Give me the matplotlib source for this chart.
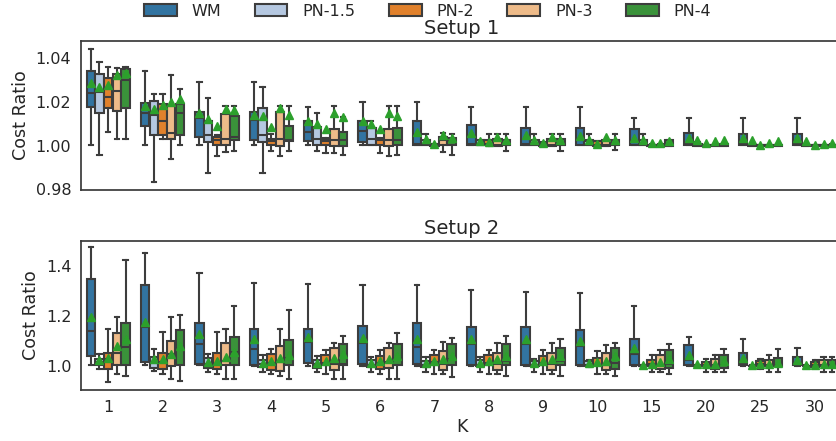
import colorsys
import matplotlib
matplotlib.use("Agg")
import matplotlib.pyplot as plt
import matplotlib.colors as mcolors
from matplotlib.patches import Patch

# ---------------- data ----------------
K_labels = ["1", "2", "3", "4", "5", "6", "7", "8", "9", "10", "15", "20", "25", "30"]
methods = ["WM", "PN-1.5", "PN-2", "PN-3", "PN-4"]
base_colors = ["#1f77b4", "#aec7e8", "#ff7f0e", "#ffbb78", "#2ca02c"]

# Setup 1 (rows: methods, columns: K)
s1_whishi = [
    [1.0445, 1.0343, 1.0290, 1.0290, 1.0176, 1.0202, 1.0202, 1.0176, 1.0176, 1.0176, 1.0126, 1.0126, 1.0126, 1.0126],
    [1.0384, 1.0237, 1.0221, 1.0270, 1.0152, 1.0114, 1.0053, 1.0027, 1.0053, 1.0053, 1.0053, 1.0015, 1.0010, 1.0010],
    [1.0361, 1.0237, 1.0050, 1.0053, 1.0035, 1.0035, 1.0010, 1.0053, 1.0015, 1.0020, 1.0008, 1.0005, 1.0003, 1.0003],
    [1.0356, 1.0323, 1.0182, 1.0182, 1.0180, 1.0180, 1.0058, 1.0053, 1.0053, 1.0027, 1.0010, 1.0008, 1.0005, 1.0005],
    [1.0361, 1.0262, 1.0182, 1.0180, 1.0130, 1.0180, 1.0054, 1.0053, 1.0053, 1.0053, 1.0027, 1.0010, 1.0008, 1.0008],
]
s1_q3 = [
    [1.0343, 1.0197, 1.0156, 1.0156, 1.0115, 1.0115, 1.0111, 1.0096, 1.0079, 1.0079, 1.0076, 1.0058, 1.0053, 1.0053],
    [1.0329, 1.0205, 1.0114, 1.0171, 1.0085, 1.0083, 1.0027, 1.0027, 1.0027, 1.0027, 1.0027, 1.0010, 1.0005, 1.0005],
    [1.0311, 1.0191, 1.0042, 1.0032, 1.0030, 1.0030, 1.0008, 1.0027, 1.0010, 1.0020, 1.0005, 1.0003, 1.0002, 1.0002],
    [1.0331, 1.0187, 1.0146, 1.0156, 1.0076, 1.0077, 1.0040, 1.0030, 1.0030, 1.0027, 1.0005, 1.0005, 1.0003, 1.0003],
    [1.0353, 1.0190, 1.0138, 1.0092, 1.0062, 1.0080, 1.0035, 1.0027, 1.0030, 1.0027, 1.0027, 1.0008, 1.0005, 1.0005],
]
s1_med = [
    [1.0240, 1.0152, 1.0126, 1.0118, 1.0065, 1.0068, 1.0008, 1.0008, 1.0008, 1.0027, 1.0015, 1.0008, 1.0008, 1.0008],
    [1.0247, 1.0141, 1.0047, 1.0047, 1.0030, 1.0030, 1.0008, 1.0008, 1.0008, 1.0020, 1.0012, 1.0003, 1.0002, 1.0002],
    [1.0224, 1.0114, 1.0027, 1.0020, 1.0020, 1.0024, 1.0003, 1.0010, 1.0003, 1.0003, 1.0002, 1.0001, 1.0001, 1.0001],
    [1.0252, 1.0060, 1.0030, 1.0032, 1.0027, 1.0027, 1.0027, 1.0003, 1.0003, 1.0003, 1.0002, 1.0002, 1.0001, 1.0001],
    [1.0303, 1.0149, 1.0042, 1.0027, 1.0027, 1.0027, 1.0020, 1.0003, 1.0003, 1.0003, 1.0003, 1.0002, 1.0001, 1.0001],
]
s1_q1 = [
    [1.0179, 1.0091, 1.0040, 1.0027, 1.0023, 1.0015, 1.0005, 1.0003, 1.0003, 1.0003, 1.0003, 1.0003, 1.0003, 1.0003],
    [1.0152, 1.0050, 1.0017, 1.0015, 1.0005, 1.0005, 1.0003, 1.0003, 1.0003, 1.0003, 1.0003, 1.0000, 1.0000, 1.0000],
    [1.0171, 1.0050, 1.0005, 1.0005, 1.0005, 1.0005, 1.0000, 1.0003, 1.0000, 1.0000, 1.0000, 1.0000, 1.0000, 1.0000],
    [1.0161, 1.0030, 1.0005, 0.9997, 1.0000, 1.0000, 1.0005, 1.0000, 1.0000, 1.0000, 1.0000, 1.0000, 1.0000, 1.0000],
    [1.0174, 1.0050, 1.0024, 1.0020, 1.0000, 1.0005, 1.0005, 1.0003, 1.0003, 1.0003, 1.0000, 1.0000, 1.0000, 1.0000],
]
s1_whislo = [
    [1.0003, 1.0003, 1.0003, 1.0003, 1.0003, 1.0003, 1.0003, 1.0003, 1.0003, 1.0003, 1.0003, 1.0003, 1.0003, 1.0003],
    [0.9959, 0.9833, 0.9873, 0.9873, 0.9974, 1.0005, 1.0003, 1.0003, 1.0003, 1.0003, 1.0003, 1.0000, 1.0000, 1.0000],
    [1.0061, 1.0030, 0.9951, 0.9974, 0.9967, 0.9967, 1.0000, 1.0000, 1.0000, 1.0000, 1.0000, 1.0000, 1.0000, 1.0000],
    [1.0030, 0.9940, 0.9970, 0.9951, 0.9967, 0.9951, 0.9970, 1.0000, 1.0000, 1.0000, 1.0000, 1.0000, 1.0000, 1.0000],
    [1.0030, 1.0005, 0.9974, 0.9974, 0.9959, 0.9959, 0.9959, 0.9974, 0.9974, 0.9980, 1.0000, 1.0000, 1.0000, 1.0000],
]
s1_mean = [
    [1.0287, 1.0182, 1.0152, 1.0141, 1.0111, 1.0111, 1.0065, 1.0058, 1.0050, 1.0045, 1.0035, 1.0035, 1.0035, 1.0035],
    [1.0270, 1.0167, 1.0121, 1.0137, 1.0100, 1.0100, 1.0030, 1.0020, 1.0027, 1.0027, 1.0027, 1.0027, 1.0024, 1.0020],
    [1.0278, 1.0187, 1.0091, 1.0088, 1.0076, 1.0076, 1.0009, 1.0015, 1.0012, 1.0010, 1.0012, 1.0012, 1.0005, 1.0005],
    [1.0323, 1.0202, 1.0167, 1.0171, 1.0152, 1.0152, 1.0050, 1.0041, 1.0041, 1.0041, 1.0012, 1.0020, 1.0012, 1.0010],
    [1.0334, 1.0214, 1.0164, 1.0141, 1.0130, 1.0134, 1.0035, 1.0027, 1.0027, 1.0027, 1.0020, 1.0024, 1.0020, 1.0012],
]

# Setup 2
s2_whishi = [
    [1.477, 1.453, 1.373, 1.331, 1.327, 1.323, 1.323, 1.303, 1.296, 1.293, 1.240, 1.116, 1.107, 1.073],
    [1.047, 1.069, 1.047, 1.044, 1.040, 1.037, 1.037, 1.037, 1.030, 1.024, 1.005, 1.005, 1.004, 1.004],
    [1.149, 1.136, 1.136, 1.069, 1.064, 1.064, 1.064, 1.064, 1.064, 1.060, 1.044, 1.029, 1.030, 1.025],
    [1.197, 1.196, 1.147, 1.147, 1.093, 1.093, 1.096, 1.091, 1.091, 1.084, 1.064, 1.044, 1.045, 1.036],
    [1.424, 1.203, 1.240, 1.224, 1.120, 1.131, 1.113, 1.120, 1.109, 1.093, 1.087, 1.067, 1.067, 1.036],
]
s2_q3 = [
    [1.349, 1.323, 1.171, 1.149, 1.149, 1.160, 1.171, 1.157, 1.156, 1.144, 1.109, 1.084, 1.053, 1.037],
    [1.027, 1.037, 1.031, 1.023, 1.024, 1.024, 1.020, 1.024, 1.020, 1.020, 1.003, 1.003, 1.002, 1.002],
    [1.053, 1.053, 1.053, 1.047, 1.043, 1.040, 1.043, 1.043, 1.040, 1.031, 1.023, 1.016, 1.020, 1.016],
    [1.133, 1.100, 1.091, 1.080, 1.073, 1.073, 1.060, 1.053, 1.053, 1.051, 1.043, 1.029, 1.023, 1.023],
    [1.173, 1.144, 1.117, 1.103, 1.087, 1.087, 1.087, 1.087, 1.073, 1.073, 1.064, 1.044, 1.033, 1.023],
]
s2_med = [
    [1.140, 1.157, 1.087, 1.069, 1.097, 1.093, 1.077, 1.089, 1.090, 1.080, 1.047, 1.024, 1.013, 1.013],
    [1.016, 1.013, 1.007, 1.007, 1.007, 1.003, 1.005, 1.005, 1.005, 1.003, 1.001, 1.001, 1.001, 1.001],
    [1.029, 1.016, 1.007, 1.013, 1.011, 1.013, 1.016, 1.013, 1.013, 1.006, 1.009, 1.006, 1.008, 1.006],
    [1.053, 1.047, 1.020, 1.017, 1.007, 1.016, 1.007, 1.009, 1.009, 1.004, 1.004, 1.004, 1.006, 1.006],
    [1.077, 1.070, 1.057, 1.031, 1.007, 1.027, 1.027, 1.020, 1.020, 1.013, 1.007, 1.004, 1.003, 1.003],
]
s2_q1 = [
    [1.040, 1.016, 1.007, 1.003, 1.013, 1.007, 1.007, 1.004, 1.004, 1.004, 1.004, 1.004, 1.004, 1.004],
    [1.004, 0.993, 0.991, 0.996, 0.993, 0.996, 0.996, 1.002, 1.002, 1.001, 1.000, 1.000, 1.000, 1.000],
    [0.989, 0.987, 0.987, 0.984, 1.003, 0.989, 1.003, 1.003, 1.003, 1.004, 1.000, 0.999, 0.999, 0.998],
    [1.004, 1.000, 1.003, 0.980, 0.983, 0.993, 0.983, 0.983, 0.983, 0.983, 0.989, 0.990, 0.999, 0.999],
    [1.004, 1.003, 1.003, 1.003, 1.003, 1.003, 1.003, 1.003, 1.003, 0.989, 0.991, 0.991, 1.000, 0.996],
]
s2_whislo = [
    [1.004, 1.003, 1.003, 1.002, 1.002, 1.002, 1.002, 1.002, 1.002, 1.002, 1.002, 1.002, 1.002, 1.002],
    [0.987, 0.980, 0.977, 0.977, 0.977, 0.977, 0.977, 0.977, 0.977, 0.997, 0.998, 0.998, 0.998, 0.998],
    [0.936, 0.967, 0.967, 0.967, 0.967, 0.967, 0.967, 0.967, 0.967, 0.967, 0.977, 0.977, 0.990, 0.994],
    [0.967, 0.947, 0.947, 0.960, 0.947, 0.947, 0.967, 0.967, 0.967, 0.967, 0.977, 0.977, 0.977, 0.977],
    [0.960, 0.940, 0.947, 0.947, 0.947, 0.947, 0.956, 0.960, 0.960, 0.960, 0.967, 0.977, 0.977, 0.977],
]
s2_mean = [
    [1.197, 1.176, 1.127, 1.109, 1.117, 1.113, 1.107, 1.109, 1.107, 1.100, 1.073, 1.043, 1.033, 1.024],
    [1.024, 1.027, 1.017, 1.013, 1.013, 1.013, 1.013, 1.013, 1.011, 1.013, 1.005, 1.007, 1.003, 1.003],
    [1.033, 1.027, 1.020, 1.020, 1.020, 1.020, 1.020, 1.020, 1.020, 1.016, 1.009, 1.007, 1.008, 1.004],
    [1.080, 1.047, 1.037, 1.033, 1.031, 1.027, 1.029, 1.027, 1.027, 1.020, 1.016, 1.008, 1.008, 1.008],
    [1.107, 1.080, 1.057, 1.045, 1.047, 1.040, 1.040, 1.040, 1.040, 1.040, 1.030, 1.020, 1.012, 1.010],
]

# ---------------- style ----------------
def desat(c, p=0.75):
    r, g, b = mcolors.to_rgb(c)
    h, l, s = colorsys.rgb_to_hls(r, g, b)
    return colorsys.hls_to_rgb(h, l, s * p)

colors = [desat(c) for c in base_colors]
lum = min(colorsys.rgb_to_hls(*mcolors.to_rgb(c))[1] for c in base_colors) * 0.6
gray = (lum, lum, lum)
text_col = "#262626"
lw = 1.5

plt.rcParams["font.family"] = ["DejaVu Sans"]
plt.rcParams["text.color"] = text_col
plt.rcParams["axes.labelcolor"] = text_col
plt.rcParams["xtick.color"] = text_col
plt.rcParams["ytick.color"] = text_col

W, H = 836, 441
fig = plt.figure(figsize=(W / 100, H / 100), dpi=100)

left = 81 / W
width = 761 / W
ax1 = fig.add_axes([left, 1 - 190 / H, width, 149 / H])
ax2 = fig.add_axes([left, 1 - 390 / H, width, 149 / H])

n_h = len(methods)
each_w = 0.8 / n_h
offsets = [(i - (n_h - 1) / 2) * each_w for i in range(n_h)]


def draw(ax, whislo, q1, med, q3, whishi, mean):
    for m in range(n_h):
        stats = []
        for k in range(len(K_labels)):
            stats.append(dict(med=med[m][k], q1=q1[m][k], q3=q3[m][k],
                              whislo=whislo[m][k], whishi=whishi[m][k],
                              mean=mean[m][k], fliers=[]))
        pos = [k + offsets[m] for k in range(len(K_labels))]
        ax.bxp(stats, positions=pos, widths=each_w * 0.98, patch_artist=True,
               showmeans=True, showfliers=False, manage_ticks=False,
               boxprops=dict(facecolor=colors[m], edgecolor=gray, linewidth=lw),
               medianprops=dict(color=gray, linewidth=lw),
               whiskerprops=dict(color=gray, linewidth=lw),
               capprops=dict(color=gray, linewidth=lw),
               meanprops=dict(marker="^", markerfacecolor="#2ca02c",
                              markeredgecolor="#2ca02c", markersize=6))
    ax.set_xlim(-0.5, len(K_labels) - 0.5)
    ax.set_xticks(range(len(K_labels)))
    for sp in ax.spines.values():
        sp.set_color("#3a3a3a")
        sp.set_linewidth(1.25)
    ax.tick_params(axis="both", which="both", left=False, bottom=False,
                   labelsize=11.5, length=3.5, pad=3.5)
    ax.set_ylabel("Cost Ratio", fontsize=12.6)


draw(ax1, s1_whislo, s1_q1, s1_med, s1_q3, s1_whishi, s1_mean)
draw(ax2, s2_whislo, s2_q1, s2_med, s2_q3, s2_whishi, s2_mean)

ax1.set_ylim(0.9797, 1.048)
ax1.set_yticks([0.98, 1.00, 1.02, 1.04])
ax1.set_yticklabels(["0.98", "1.00", "1.02", "1.04"])
ax1.set_xticklabels([])
ax1.set_title("Setup 1", fontsize=14, pad=5)

ax2.set_ylim(0.905, 1.5)
ax2.set_yticks([1.0, 1.2, 1.4])
ax2.set_yticklabels(["1.0", "1.2", "1.4"])
ax2.set_xticklabels(K_labels)
ax2.set_xlabel("K", fontsize=12.6, labelpad=2)
ax2.set_title("Setup 2", fontsize=14, pad=5)

handles = [Patch(facecolor=colors[i], edgecolor=gray, linewidth=lw, label=methods[i])
           for i in range(n_h)]
fig.legend(handles=handles, loc="center", bbox_to_anchor=(0.5114, 0.975), ncol=5,
           frameon=False, fontsize=11.5, handlelength=2.06, handleheight=0.75,
           handletextpad=0.92, columnspacing=2.1)

fig.savefig("out.png", dpi=100)
